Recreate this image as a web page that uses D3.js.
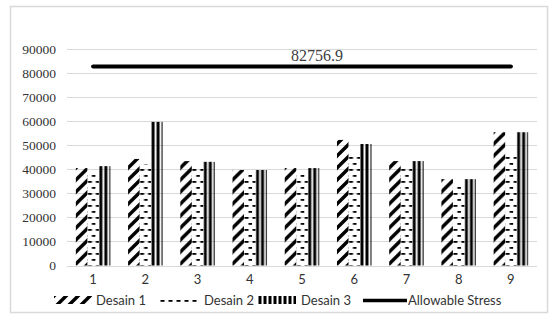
<!DOCTYPE html>
<html><head><meta charset="utf-8">
<script src="https://cdn.jsdelivr.net/npm/d3@7/dist/d3.min.js"></script>
<style>body{margin:0;background:#fff}svg{display:block}</style>
</head><body>
<script>
const categories = ['1','2','3','4','5','6','7','8','9'];
const seriesNames = ['Desain 1','Desain 2','Desain 3'];
const desain1 = [40500, 44300, 43400, 39700, 40500, 52200, 43400, 35900, 55400];
const desain2 = [39000, 42000, 41500, 38000, 39000, 46500, 41500, 34000, 46000];
const desain3 = [41300, 59700, 43100, 39700, 40500, 50500, 43400, 35900, 55400];
const allowableStress = 82756.9;
const allowableLabel = '82756.9';
const yTicks = [0,10000,20000,30000,40000,50000,60000,70000,80000,90000];

const W = 550, H = 325;
const svg = d3.select('body').append('svg').attr('width', W).attr('height', H);
const defs = svg.append('defs');

// patterns
const p1 = defs.append('pattern').attr('id','pat1').attr('patternUnits','userSpaceOnUse')
  .attr('width',12).attr('height',12);
p1.append('path').attr('d','M-1,13 L13,-1 M-7,7 L7,-7 M5,19 L19,5')
  .attr('stroke','#000').attr('stroke-width',3.4).attr('fill','none');
const p2 = defs.append('pattern').attr('id','pat2').attr('patternUnits','userSpaceOnUse')
  .attr('width',8).attr('height',12);
p2.append('rect').attr('x',0.5).attr('y',1).attr('width',4).attr('height',1.8).attr('fill','#000');
p2.append('rect').attr('x',4.5).attr('y',7).attr('width',4).attr('height',1.8).attr('fill','#000');
const p3 = defs.append('pattern').attr('id','pat3').attr('patternUnits','userSpaceOnUse')
  .attr('width',5).attr('height',10);
p3.append('rect').attr('x',0.5).attr('y',0).attr('width',3).attr('height',10).attr('fill','#000');
const fills = ['url(#pat1)','url(#pat2)','url(#pat3)'];

// frame
svg.append('rect').attr('x',10.5).attr('y',6.5).attr('width',537).attr('height',306)
  .attr('fill','none').attr('stroke','#d9d9d9').attr('stroke-width',1.5);

const plotL = 67, plotR = 537;
const y = d3.scaleLinear().domain([0,90000]).range([265.5,49]);
const x0 = d3.scaleBand().domain(categories).range([plotL, plotR]).padding(0);
const groupW = 34.5;
const x1 = d3.scaleBand().domain(seriesNames)
  .range([(x0.bandwidth()-groupW)/2, (x0.bandwidth()+groupW)/2]).padding(0);

// gridlines
svg.append('g').selectAll('line').data(yTicks).join('line')
  .attr('x1',plotL).attr('x2',plotR)
  .attr('y1',d=>Math.round(y(d))+0.5).attr('y2',d=>Math.round(y(d))+0.5)
  .attr('stroke','#d9d9d9').attr('stroke-width',1);

// y axis labels
const yAxis = d3.axisLeft(y).tickValues(yTicks).tickSize(0).tickPadding(0).tickFormat(d3.format('d'));
const gy = svg.append('g').attr('transform','translate(56,0)').call(yAxis);
gy.select('.domain').remove();
gy.selectAll('text').attr('font-family','"Liberation Serif", serif').attr('font-size',13.5).attr('fill','#333');

// x axis labels
const xAxis = d3.axisBottom(x0).tickSize(0).tickPadding(0);
const gx = svg.append('g').attr('transform','translate(0,275)').call(xAxis);
gx.select('.domain').remove();
gx.selectAll('text').attr('font-family','Lato, "Open Sans", sans-serif').attr('font-size',13).attr('fill','#333');

// bars
const data = categories.map((c,i)=>({cat:c, vals:[desain1[i],desain2[i],desain3[i]]}));
const groups = svg.append('g').selectAll('g').data(data).join('g')
  .attr('transform',d=>`translate(${x0(d.cat)},0)`);
groups.selectAll('rect').data(d=>d.vals.map((v,k)=>({v,k}))).join('rect')
  .attr('transform',d=>`translate(${x1(seriesNames[d.k])},0)`)
  .attr('x',0).attr('width',x1.bandwidth())
  .attr('y',d=>y(d.v)).attr('height',d=>y(0)-y(d.v))
  .attr('fill',d=>fills[d.k]);

// allowable stress line
const lineData = categories.map(c=>({cat:c, v:allowableStress}));
const line = d3.line().x(d=>x0(d.cat)+x0.bandwidth()/2).y(d=>y(d.v));
svg.append('path').datum(lineData).attr('d',line)
  .attr('stroke','#000').attr('stroke-width',4).attr('fill','none').attr('stroke-linecap','round');
svg.append('text').attr('x',317).attr('y',y(allowableStress)-5)
  .attr('text-anchor','middle').attr('font-family','"Liberation Serif", serif')
  .attr('font-size',16).attr('fill','#404040').text(allowableLabel);

// legend
const legendY = 305;
const legendItems = [
  {name:'Desain 1', type:0, sx:54, sw:38, tx:96},
  {name:'Desain 2', type:1, sx:160, sw:40, tx:204},
  {name:'Desain 3', type:2, sx:258, sw:38, tx:301},
  {name:'Allowable Stress', type:3, sx:363, sw:44, tx:408}
];
const lg = svg.append('g');
legendItems.forEach(it=>{
  if (it.type===3) {
    lg.append('line').attr('x1',it.sx).attr('x2',it.sx+it.sw).attr('y1',legendY-4.5).attr('y2',legendY-4.5)
      .attr('stroke','#000').attr('stroke-width',3.5);
  } else {
    const hgt = it.type===1 ? 4 : 8;
    const ty = it.type===1 ? legendY-6 : legendY-9;
    lg.append('rect').attr('transform',`translate(${it.sx},${ty})`)
      .attr('x',0).attr('y',0).attr('width',it.sw).attr('height',hgt).attr('fill',fills[it.type]);
  }
  lg.append('text').attr('x',it.tx).attr('y',legendY).attr('font-family','Lato, "Open Sans", sans-serif')
    .attr('font-size',13).attr('fill','#333').text(it.name);
});
</script>
</body></html>
